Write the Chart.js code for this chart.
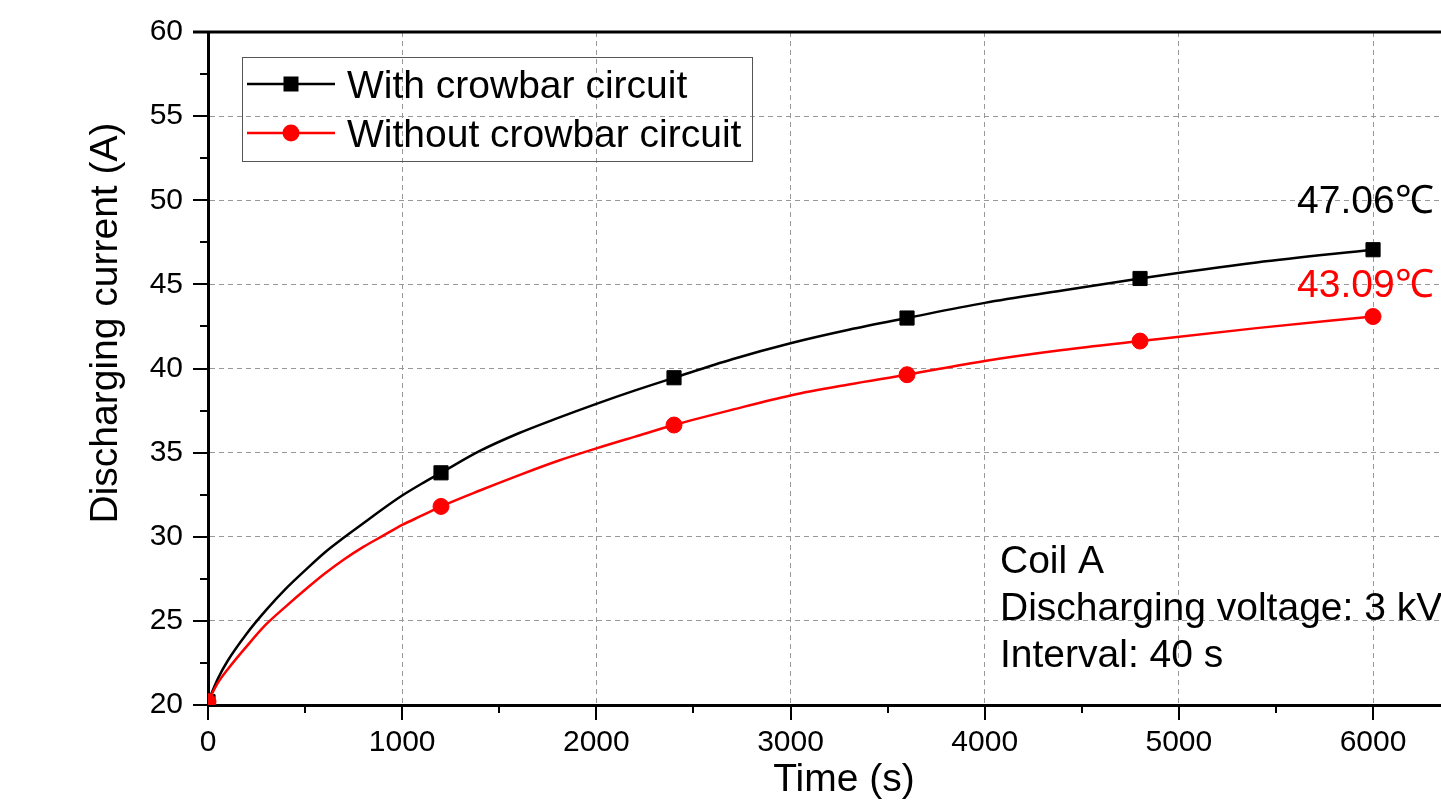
<!DOCTYPE html>
<html>
<head>
<meta charset="utf-8">
<title>Discharging current vs time</title>
<style>
  html, body { margin: 0; padding: 0; background: #fff; }
  #wrap { width: 1441px; height: 807px; }
</style>
</head>
<body>
<div id="wrap"><canvas id="chart" width="1441" height="807"></canvas></div>
<script src="https://cdn.jsdelivr.net/npm/chart.js@4.4.0/dist/chart.umd.min.js"></script>
<script>
// values (s / A)
const timeS = [0, 50, 100, 200, 300, 400, 500, 600, 700, 800, 900, 1000, 1100, 1200, 1400, 1600, 1800, 2000, 2200, 2400, 2700, 3000, 3300, 3600, 4000, 4400, 4800, 5400, 6000]
const withCrowbar = [20.2, 21.55, 22.6, 24.25, 25.65, 26.9, 28.0, 29.05, 29.95, 30.8, 31.65, 32.45, 33.15, 33.8, 35.1, 36.15, 37.05, 37.9, 38.7, 39.45, 40.55, 41.5, 42.3, 43.0, 43.9, 44.63, 45.35, 46.3, 47.06]
const withoutCrowbar = [20.2, 21.3, 22.1, 23.5, 24.8, 25.85, 26.85, 27.8, 28.65, 29.4, 30.05, 30.7, 31.25, 31.8, 32.75, 33.65, 34.5, 35.25, 35.95, 36.64, 37.55, 38.4, 39.05, 39.63, 40.45, 41.1, 41.63, 42.4, 43.09]
const markerTimes = [0, 1200, 2400, 3600, 4800, 6000]
const xTickValues = [0, 1000, 2000, 3000, 4000, 5000, 6000]
const yTickValues = [20, 25, 30, 35, 40, 45, 50, 55, 60]
const seriesNames = ['With crowbar circuit', 'Without crowbar circuit']
const endLabels = ['47.06℃', '43.09℃']
const infoLines = ['Coil A', 'Discharging voltage: 3 kV', 'Interval: 40 s']
const xTitle = 'Time (s)'
const yTitle = 'Discharging current (A)'

const FONT = "'Liberation Sans', Arial, sans-serif"
const BLACK = '#000000'
const RED = '#ff0000'

function toPoints(vals) {
  return timeS.map((t, i) => ({ x: t, y: vals[i] }))
}
function markerSize(r) {
  return ctx => markerTimes.includes(timeS[ctx.dataIndex]) ? r : 0
}

// frame, minor ticks, titles, legend and notes
const extras = {
  id: 'extras',
  afterDraw(chart) {
    const ctx = chart.ctx
    const a = chart.chartArea
    const x = chart.scales.x
    const y = chart.scales.y
    ctx.save()
    ctx.strokeStyle = BLACK

    // top frame
    ctx.lineWidth = 3
    ctx.beginPath()
    ctx.moveTo(a.left - 15, a.top)
    ctx.lineTo(a.right, a.top)
    ctx.stroke()

    // ticks (outside)
    ctx.lineWidth = 2
    for (let v = 0; v <= x.max; v += 500) {
      const px = Math.round(x.getPixelForValue(v))
      const len = v % 1000 === 0 ? 15 : 8
      ctx.beginPath()
      ctx.moveTo(px, a.bottom)
      ctx.lineTo(px, a.bottom + len)
      ctx.stroke()
    }
    for (let v = y.min; v <= y.max; v += 2.5) {
      const py = Math.round(y.getPixelForValue(v))
      const len = v % 5 === 0 ? 15 : 8
      ctx.beginPath()
      ctx.moveTo(a.left, py)
      ctx.lineTo(a.left - len, py)
      ctx.stroke()
    }

    // axis titles
    ctx.fillStyle = BLACK
    ctx.font = '39px ' + FONT
    ctx.textAlign = 'center'
    ctx.textBaseline = 'alphabetic'
    ctx.fillText(xTitle, 844, 791)
    ctx.save()
    ctx.translate(117, 323)
    ctx.rotate(-Math.PI / 2)
    ctx.fillText(yTitle, 0, 0)
    ctx.restore()

    // legend
    ctx.lineWidth = 1
    ctx.strokeStyle = '#555'
    ctx.strokeRect(242.5, 57.5, 510, 104)
    const rows = [84, 133]
    const colors = [BLACK, RED]
    rows.forEach((ry, i) => {
      ctx.strokeStyle = colors[i]
      ctx.fillStyle = colors[i]
      ctx.lineWidth = 2.5
      ctx.beginPath()
      ctx.moveTo(247, ry)
      ctx.lineTo(335, ry)
      ctx.stroke()
      if (i === 0) {
        ctx.fillRect(291 - 7.5, ry - 7.5, 15, 15)
      } else {
        ctx.beginPath()
        ctx.arc(291, ry, 8.5, 0, Math.PI * 2)
        ctx.fill()
      }
      ctx.fillStyle = BLACK
      ctx.textAlign = 'left'
      ctx.font = '39px ' + FONT
      ctx.fillText(seriesNames[i], 347, ry + 14)
    })

    // end values
    const endX = x.getPixelForValue(6000) - 76
    ctx.textAlign = 'left'
    ctx.font = '39px ' + FONT
    ctx.fillStyle = BLACK
    ctx.fillText(endLabels[0], endX, 213)
    ctx.fillStyle = RED
    ctx.fillText(endLabels[1], endX, 297)

    // info text
    ctx.fillStyle = BLACK
    ctx.font = '39px ' + FONT
    infoLines.forEach((t, i) => {
      ctx.fillText(t, 1000, 573 + i * 47)
    })
    ctx.restore()
  }
}

const chart = new Chart(document.getElementById('chart'), {
  type: 'line',
  data: {
    datasets: [
      {
        label: seriesNames[0],
        data: toPoints(withCrowbar),
        borderColor: BLACK,
        backgroundColor: BLACK,
        borderWidth: 2.5,
        pointStyle: 'rect',
        pointRadius: markerSize(10),
        pointHoverRadius: markerSize(10),
        pointBorderWidth: 1,
        cubicInterpolationMode: 'monotone',
        clip: 0,
        order: 1
      },
      {
        label: seriesNames[1],
        data: toPoints(withoutCrowbar),
        borderColor: RED,
        backgroundColor: RED,
        borderWidth: 2.5,
        pointStyle: 'circle',
        pointRadius: markerSize(8),
        pointHoverRadius: markerSize(8),
        pointBorderWidth: 1,
        cubicInterpolationMode: 'monotone',
        clip: 0,
        order: 0
      }
    ]
  },
  options: {
    responsive: false,
    animation: false,
    events: [],
    layout: { autoPadding: false, padding: { top: 32, left: 0, right: 0, bottom: 0 } },
    plugins: {
      legend: { display: false },
      tooltip: { enabled: false }
    },
    scales: {
      x: {
        type: 'linear',
        min: 0,
        max: 6350,
        afterBuildTicks: s => { s.ticks = xTickValues.map(v => ({ value: v })) },
        afterFit: s => { s.height = 102; s.paddingLeft = 0; s.paddingRight = 0 },
        ticks: {
          autoSkip: false,
          maxRotation: 0,
          padding: 20,
          color: BLACK,
          font: { family: FONT, size: 30 },
          callback: v => String(v)
        },
        grid: { color: '#999999', lineWidth: 1, drawTicks: false },
        border: { color: BLACK, width: 3, dash: [5, 4] }
      },
      y: {
        min: 20,
        max: 60,
        afterBuildTicks: s => { s.ticks = yTickValues.map(v => ({ value: v })) },
        afterFit: s => { s.width = 208; s.paddingTop = 0; s.paddingBottom = 0 },
        ticks: {
          padding: 25,
          color: BLACK,
          font: { family: FONT, size: 30 },
          callback: v => String(v)
        },
        grid: { color: '#999999', lineWidth: 1, drawTicks: false },
        border: { color: BLACK, width: 3, dash: [5, 4] }
      }
    }
  },
  plugins: [extras]
})
</script>
</body>
</html>
